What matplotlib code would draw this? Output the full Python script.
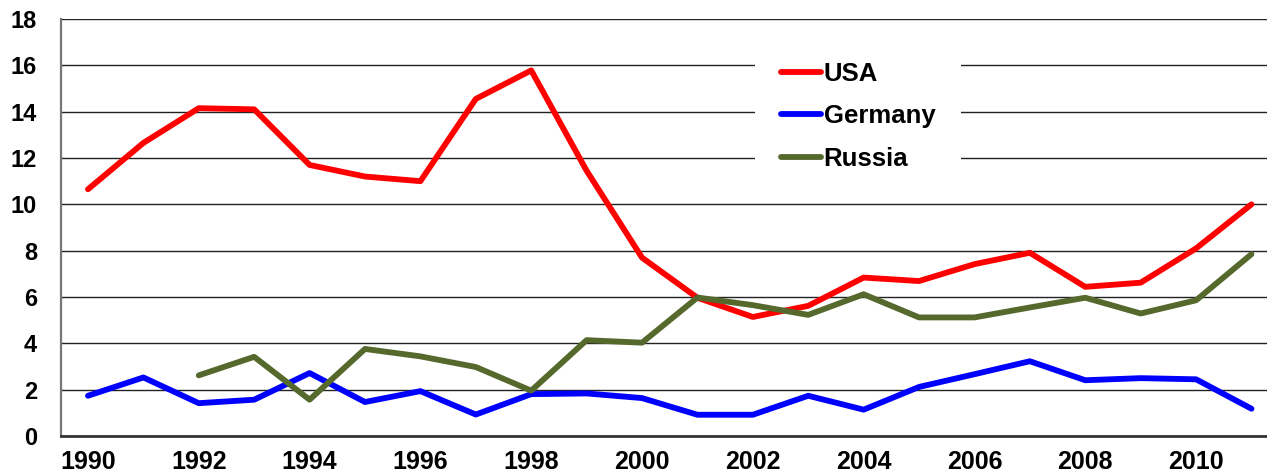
import numpy as np
import matplotlib
matplotlib.use("Agg")
import matplotlib.pyplot as plt

# data
years = list(range(1990, 2012))
usa = [10.65, 12.65, 14.15, 14.1, 11.7, 11.2, 11.0, 14.55, 15.78, 11.45, 7.7,
       5.97, 5.14, 5.62, 6.84, 6.69, 7.42, 7.91, 6.44, 6.62, 8.1, 10.0]
germany = [1.74, 2.53, 1.42, 1.57, 2.72, 1.47, 1.94, 0.93, 1.81, 1.84, 1.64,
           0.92, 0.92, 1.74, 1.14, 2.12, 2.67, 3.23, 2.41, 2.5, 2.45, 1.18]
russia = [np.nan, np.nan, 2.62, 3.42, 1.57, 3.76, 3.44, 2.98, 1.96, 4.14, 4.03,
          5.98, 5.65, 5.23, 6.12, 5.12, 5.12, 5.55, 5.97, 5.29, 5.86, 7.85]
xticks = list(range(1990, 2011, 2))
yticks = list(range(0, 19, 2))

plt.rcParams['font.family'] = ['Liberation Sans', 'DejaVu Sans']
plt.rcParams['font.weight'] = 'bold'

fig = plt.figure(figsize=(12.67, 4.74), dpi=100)
ax = fig.add_axes([0.048, 0.080, 0.952, 0.880])

#draw the three series
ax.plot(years, usa, color='#FF0000', lw=4.2, solid_capstyle='round', label='USA', zorder=3)
ax.plot(years, germany, color='#0000FF', lw=4.2, solid_capstyle='round', label='Germany', zorder=3)
ax.plot(years, russia, color='#55692D', lw=4.2, solid_capstyle='round', label='Russia', zorder=3)

ax.set_xlim(1989.51, 2011.28)
ax.set_ylim(0, 18)
ax.set_xticks(xticks)
ax.set_yticks(yticks)
ax.tick_params(axis='both', length=0)
ax.tick_params(axis='x', pad=10, labelsize=18)
ax.tick_params(axis='y', pad=17, labelsize=17)

ax.grid(axis='y', color='#222222', lw=1.0, zorder=1)
ax.set_axisbelow(True)
for s in ['top', 'right']:
    ax.spines[s].set_visible(False)
ax.spines['left'].set_color('#777777')
ax.spines['left'].set_linewidth(1.6)
ax.spines['bottom'].set_color('#333333')
ax.spines['bottom'].set_linewidth(2.0)

leg = ax.legend(loc='upper left', bbox_to_anchor=(755 / 1267, 1 - 36 / 474),
                bbox_transform=fig.transFigure, fontsize=18.5, frameon=True,
                fancybox=False, edgecolor='none', facecolor='white', framealpha=1,
                handlelength=1.55, handletextpad=0.12, labelspacing=0.72,
                borderpad=1.0, borderaxespad=0)
leg.set_zorder(4)

fig.savefig('out.png', dpi=100)
